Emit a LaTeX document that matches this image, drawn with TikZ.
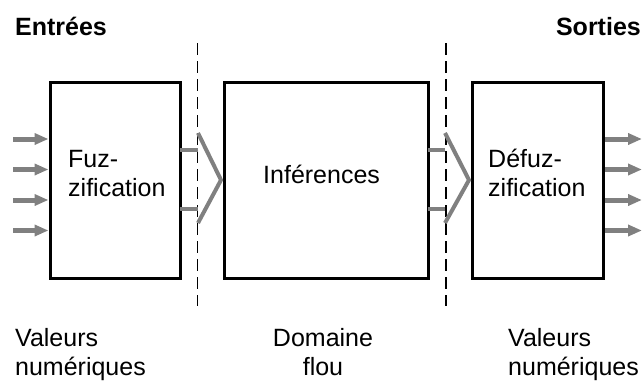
\documentclass[tikz,border=0pt]{standalone}
\usepackage{fontspec}
\setmainfont{Liberation Sans}
\usetikzlibrary{arrows.meta}
\definecolor{linegray}{RGB}{128,128,128}
\begin{document}
\begin{tikzpicture}[x=1pt,y=-1pt,
  box/.style={draw,line width=3pt,minimum width=#1,minimum height=196pt,inner sep=0pt,outer sep=0pt},
  lbl/.style={inner sep=0pt,anchor=base west,font=\fontsize{25}{29}\selectfont},
  ttl/.style={inner sep=0pt,anchor=base west,font=\fontsize{25}{29}\selectfont\bfseries},
  sep/.style={line width=1.3pt,dash pattern=on 12pt off 6pt},
  chev/.style={linegray,line width=4pt,line join=miter},
  gline/.style={linegray,line width=4pt},
  ioarr/.style={linegray,line width=5pt,-{Triangle[length=14pt,width=11pt]}}
]
\useasboundingbox (0,0) rectangle (643,383);
\clip (0,0) rectangle (643,383);

% boxes
\node[box=130pt] (fuz) at (115,180) {};
\node[box=203.5pt] (inf) at (326.25,180) {};
\node[box=131pt] (defuz) at (538,180) {};

% texts (base anchor = baseline of last line)
\node[lbl,align=left] (tfuz) at (68,196) {Fuz-\\zification};
\node[lbl] (tinf) at (263,183) {Inférences};
\node[lbl,align=left] (tdefuz) at (488,196) {Défuz-\\zification};
\node[ttl] (tin) at (15,35) {Entrées};
\node[ttl,anchor=base east] (tout) at (641,35) {Sorties};
\node[lbl,align=left] (vin) at (15,375) {Valeurs\\numériques};
\node[lbl,align=center,anchor=base] (dom) at (323,375) {Domaine\\flou};
\node[lbl,align=left] (vout) at (508,375) {Valeurs\\numériques};

% dashed separators
\coordinate (d1t) at (197.5,43);
\coordinate (d1b) at (197.5,306);
\coordinate (d2t) at (446,43);
\coordinate (d2b) at (446,306);
\draw[sep] (d1t) -- (d1b);
\draw[sep] (d2t) -- (d2b);

% chevrons
\coordinate (c1a) at (198,133);
\coordinate (c1t) at (221,180);
\coordinate (c1b) at (198,223);
\coordinate (c2a) at (445,133);
\coordinate (c2t) at (469,180);
\coordinate (c2b) at (445,223);
\draw[chev] (c1a) -- (c1t) -- (c1b);
\draw[chev] (c2a) -- (c2t) -- (c2b);

% gray connection lines
\coordinate (g1u) at (198,150);
\coordinate (g1d) at (198,209);
\coordinate (g2u) at (445,150);
\coordinate (g2d) at (445,209);
\draw[gline] (fuz.east |- g1u) -- (g1u);
\draw[gline] (fuz.east |- g1d) -- (g1d);
\draw[gline] (inf.east |- g2u) -- (g2u);
\draw[gline] (inf.east |- g2d) -- (g2d);

% input and output arrows
\foreach \i/\y in {1/139,2/169.5,3/200,4/230.5}{
  \coordinate (in\i) at (13,\y);
  \draw[ioarr,shorten >=1.5pt] (in\i) -- (in\i -| fuz.west);
  \coordinate (out\i) at (642,\y);
  \draw[ioarr,shorten <=1.5pt] (defuz.east |- out\i) -- (out\i);
}
\end{tikzpicture}
\end{document}
